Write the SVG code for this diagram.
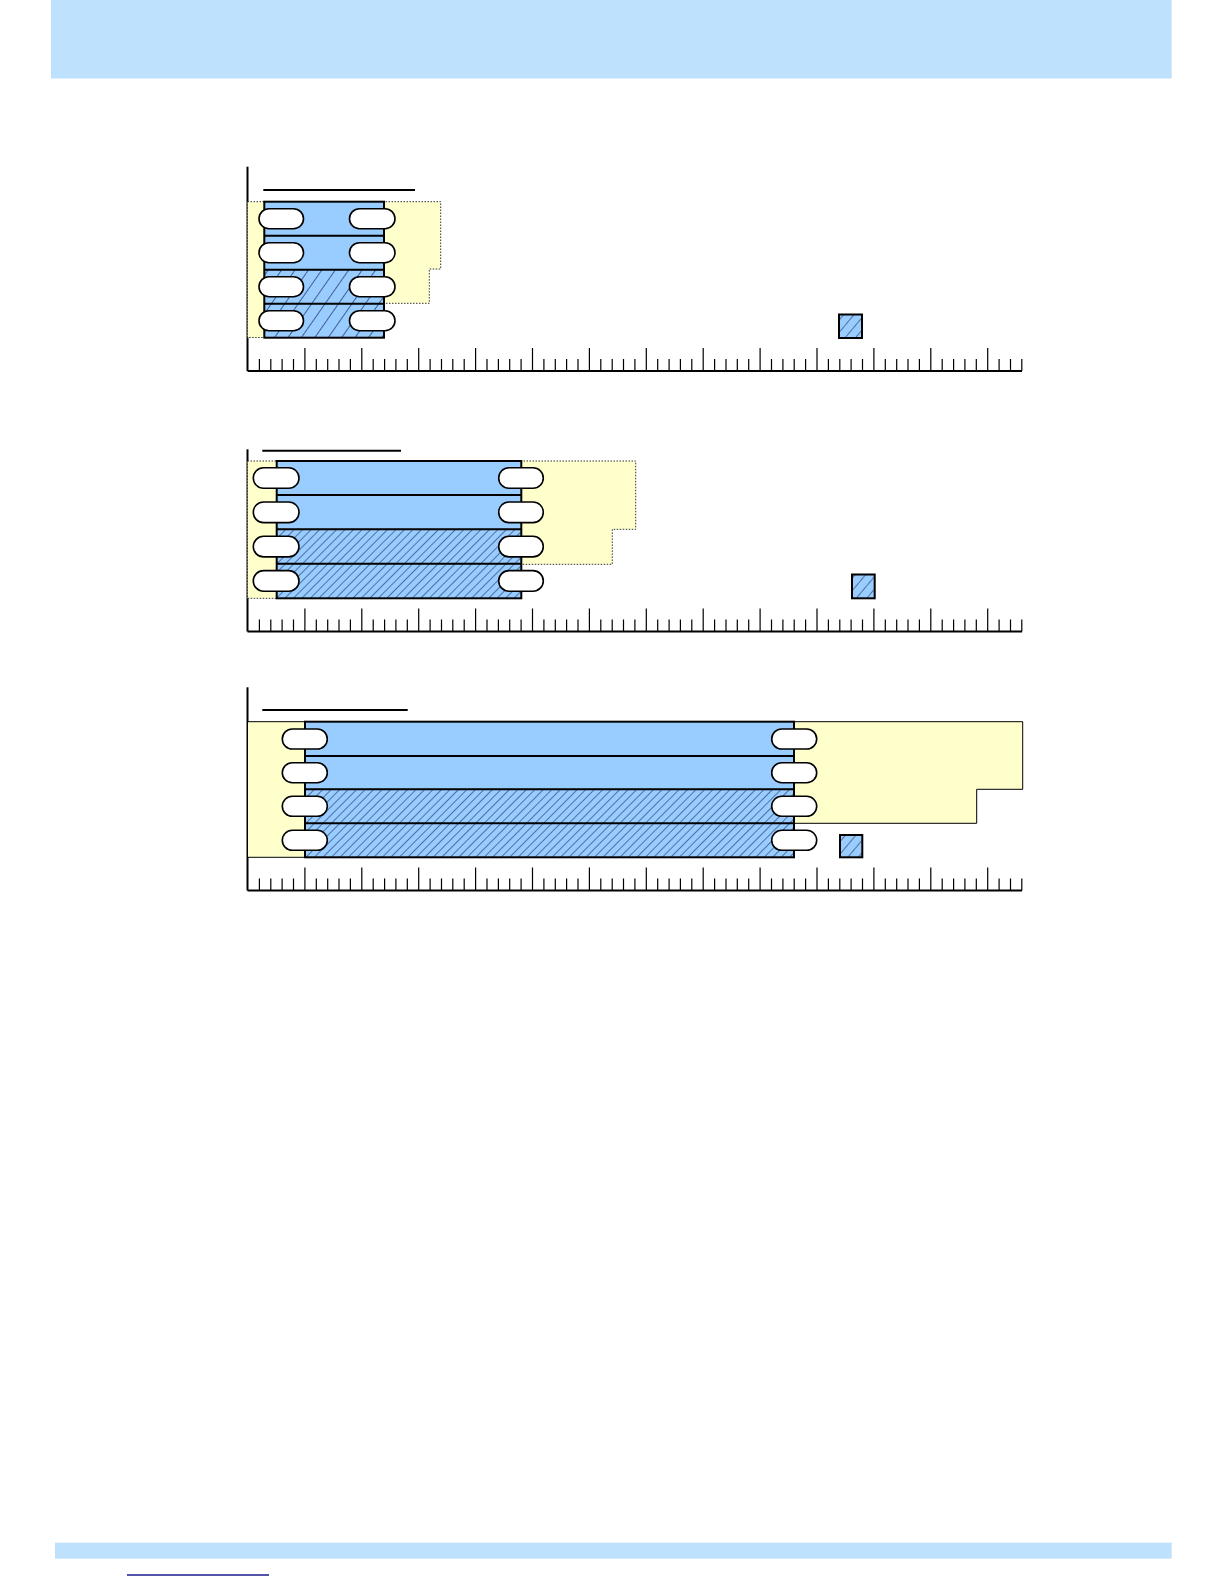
<svg xmlns="http://www.w3.org/2000/svg" width="1224" height="1584" viewBox="0 0 1224 1584">
<style>
.band{fill:#bee1fd}
.axis{fill:none;stroke:#000;stroke-width:2}
.tick{fill:none;stroke:#000;stroke-width:1.2}
.title{stroke:#000;stroke-width:2}
.yel{fill:#ffffcc;stroke:#333;stroke-width:1;stroke-dasharray:1.5 1.5}
.yel3{fill:#ffffcc;stroke:#000;stroke-width:1}
.blue{fill:#99ccff}
.frame{fill:none;stroke:#000;stroke-width:2}
.div{stroke:#000;stroke-width:2}
.pill{fill:#fff;stroke:#000;stroke-width:1.6}
.leg{stroke:#000;stroke-width:2}
</style>
<defs>
<pattern id="hatchA" patternUnits="userSpaceOnUse" width="11" height="11" patternTransform="rotate(35)">
<rect width="11" height="11" fill="#99ccff"/>
<line x1="0" y1="0" x2="0" y2="11" stroke="#142452" stroke-width="1.3"/>
</pattern>
<pattern id="hatchB" patternUnits="userSpaceOnUse" width="6" height="6" patternTransform="rotate(45)">
<rect width="6" height="6" fill="#99ccff"/>
<line x1="0" y1="0" x2="0" y2="6" stroke="#142452" stroke-width="1.1"/>
</pattern>
<pattern id="hatchL" patternUnits="userSpaceOnUse" width="8" height="8" patternTransform="rotate(40)">
<rect width="8" height="8" fill="#99ccff"/>
<line x1="0" y1="0" x2="0" y2="8" stroke="#142452" stroke-width="1.1"/>
</pattern>
<g id="ruler">
<path class="axis" d="M247.5 0H1022"/>
<path class="tick" d="M259.4 0v-12M270.8 0v-12M282.1 0v-12M293.5 0v-12M316.3 0v-12M327.7 0v-12M339 0v-12M350.4 0v-12M373.2 0v-12M384.6 0v-12M395.9 0v-12M407.3 0v-12M430.1 0v-12M441.5 0v-12M452.8 0v-12M464.2 0v-12M487 0v-12M498.4 0v-12M509.7 0v-12M521.1 0v-12M543.9 0v-12M555.3 0v-12M566.6 0v-12M578 0v-12M600.8 0v-12M612.2 0v-12M623.5 0v-12M634.9 0v-12M657.7 0v-12M669.1 0v-12M680.4 0v-12M691.8 0v-12M714.6 0v-12M726 0v-12M737.3 0v-12M748.7 0v-12M771.5 0v-12M782.9 0v-12M794.2 0v-12M805.6 0v-12M828.4 0v-12M839.8 0v-12M851.1 0v-12M862.5 0v-12M885.3 0v-12M896.7 0v-12M908 0v-12M919.4 0v-12M942.2 0v-12M953.6 0v-12M964.9 0v-12M976.3 0v-12M999.1 0v-12M1010.5 0v-12M1021.8 0v-12"/>
<path class="tick" d="M304.9 0v-23M361.8 0v-23M418.7 0v-23M475.6 0v-23M532.5 0v-23M589.4 0v-23M646.3 0v-23M703.2 0v-23M760.1 0v-23M817 0v-23M873.9 0v-23M930.8 0v-23M987.7 0v-23"/>
</g>
</defs>

<rect id="header" class="band" x="51" y="0" width="1120.7" height="78.5"/>
<rect id="footer" class="band" x="55" y="1542.7" width="1116.7" height="16"/>
<line id="footer-link" x1="127" y1="1575" x2="269" y2="1575" stroke="#1a1a8c" stroke-width="1.3"/>

<!-- Panel 1 -->
<g id="panel1">
<line class="axis" x1="247.5" y1="166.7" x2="247.5" y2="371"/>
<use href="#ruler" transform="translate(0,371)"/>
<line class="title" x1="263.3" y1="190" x2="415" y2="190"/>
<path class="yel" d="M247.5 201.7H440.7V269H429.3V303.3H384V337.5H247.5Z"/>
<rect class="blue" x="264.3" y="201.7" width="119.7" height="68"/>
<rect fill="url(#hatchA)" x="264.3" y="269.7" width="119.7" height="68"/>
<rect class="frame" x="264.3" y="201.7" width="119.7" height="136"/>
<path class="div" d="M264.3 235.7H384M264.3 269.7H384M264.3 303.7H384"/>
<rect class="pill" x="259" y="208.7" width="44.5" height="20" rx="10"/>
<rect class="pill" x="259" y="242.7" width="44.5" height="20" rx="10"/>
<rect class="pill" x="259" y="276.7" width="44.5" height="20" rx="10"/>
<rect class="pill" x="259" y="310.7" width="44.5" height="20" rx="10"/>
<rect class="pill" x="349.5" y="208.7" width="45.5" height="20" rx="10"/>
<rect class="pill" x="349.5" y="242.7" width="45.5" height="20" rx="10"/>
<rect class="pill" x="349.5" y="276.7" width="45.5" height="20" rx="10"/>
<rect class="pill" x="349.5" y="310.7" width="45.5" height="20" rx="10"/>
<rect class="leg" fill="url(#hatchL)" x="839" y="314.5" width="23" height="23.5"/>
</g>

<!-- Panel 2 -->
<g id="panel2">
<line class="axis" x1="247.5" y1="449.3" x2="247.5" y2="631.5"/>
<use href="#ruler" transform="translate(0,631.5)"/>
<line class="title" x1="262.3" y1="450.7" x2="401" y2="450.7"/>
<path class="yel" d="M247.5 461H635.7V529.3H612.3V564.3H521.3V598.3H247.5Z"/>
<rect class="blue" x="276.7" y="461" width="244.6" height="68.5"/>
<rect fill="url(#hatchB)" x="276.7" y="529.3" width="244.6" height="69"/>
<rect class="frame" x="276.7" y="461" width="244.6" height="137.3"/>
<path class="div" d="M276.7 495H521.3M276.7 529.3H521.3M276.7 563.7H521.3"/>
<rect class="pill" x="253.3" y="467.7" width="45.7" height="20.6" rx="10.3"/>
<rect class="pill" x="253.3" y="502" width="45.7" height="20.6" rx="10.3"/>
<rect class="pill" x="253.3" y="536.3" width="45.7" height="20.6" rx="10.3"/>
<rect class="pill" x="253.3" y="570.6" width="45.7" height="20.6" rx="10.3"/>
<rect class="pill" x="498.7" y="467.7" width="44.6" height="20.6" rx="10.3"/>
<rect class="pill" x="498.7" y="502" width="44.6" height="20.6" rx="10.3"/>
<rect class="pill" x="498.7" y="536.3" width="44.6" height="20.6" rx="10.3"/>
<rect class="pill" x="498.7" y="570.6" width="44.6" height="20.6" rx="10.3"/>
<rect class="leg" fill="url(#hatchL)" x="852" y="574.5" width="22.7" height="23.8"/>
</g>

<!-- Panel 3 -->
<g id="panel3">
<line class="axis" x1="247.5" y1="687.3" x2="247.5" y2="890.5"/>
<use href="#ruler" transform="translate(0,890.5)"/>
<line class="title" x1="262.3" y1="710" x2="407.7" y2="710" stroke-width="1.5"/>
<path class="yel3" d="M247.5 721.7H1022.7V789.3H976.7V823.3H794V857.3H247.5Z"/>
<rect class="blue" x="305" y="721.7" width="489" height="67.8"/>
<rect fill="url(#hatchB)" x="305" y="789.3" width="489" height="68"/>
<rect class="frame" x="305" y="721.7" width="489" height="135.6"/>
<path class="div" d="M305 756H794"/>
<path class="div" stroke-width="1.5" d="M305 789.3H794M305 823.3H794"/>
<rect class="pill" x="282.3" y="729" width="45" height="20" rx="10"/>
<rect class="pill" x="282.3" y="762.7" width="45" height="20" rx="10"/>
<rect class="pill" x="282.3" y="796.3" width="45" height="20" rx="10"/>
<rect class="pill" x="282.3" y="830.3" width="45" height="20" rx="10"/>
<rect class="pill" x="771.7" y="729" width="45" height="20" rx="10"/>
<rect class="pill" x="771.7" y="762.7" width="45" height="20" rx="10"/>
<rect class="pill" x="771.7" y="796.3" width="45" height="20" rx="10"/>
<rect class="pill" x="771.7" y="830.3" width="45" height="20" rx="10"/>
<rect class="leg" fill="url(#hatchL)" x="840" y="835" width="22.3" height="22.3"/>
</g>
</svg>
